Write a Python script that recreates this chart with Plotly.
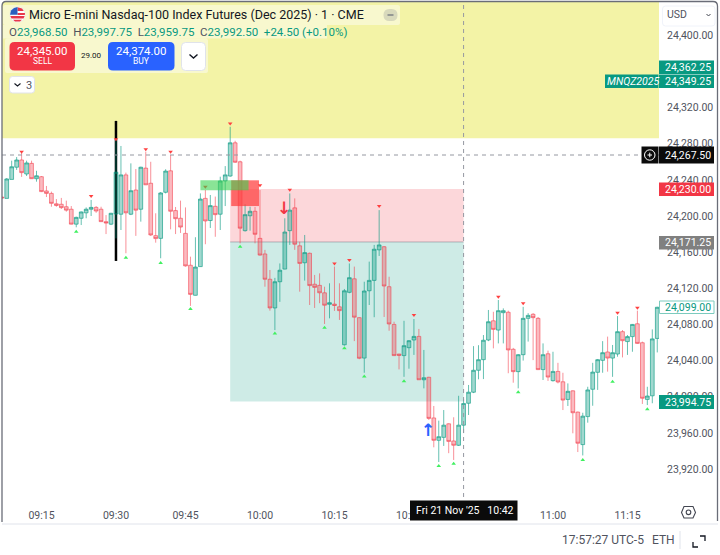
# -*- coding: utf-8 -*-
"""Micro E-mini Nasdaq-100 one minute chart with position boxes and price tags."""

import plotly.graph_objects as go

WIDTH = 720
HEIGHT = 555

TEAL = "#089981"
RED = "#F23645"
BLUE = "#2962FF"
TEXT = "#50535E"
FONT = "Roboto"

opens = [
    24221, 24219.5, 24240.5, 24254, 24262, 24246.5, 24258.25, 24241.25, 24243.5, 24227.75,
    24225, 24213.5, 24213, 24210.25, 24207.5, 24191, 24197.5, 24203.5, 24207.5, 24209.5,
    24207.5, 24193.75, 24191, 24202.25, 24202, 24245.5, 24202, 24228.75, 24207.5, 24253,
    24236.25, 24178.25, 24175.25, 24226.25, 24250, 24206, 24197.5, 24180.75, 24145.5, 24112.25,
    24144, 24219.5, 24195, 24210.75, 24202, 24238.75, 24244.25, 24281, 24260, 24183.75,
    24200.25, 24205.25, 24175.25, 24158, 24130, 24098.25, 24127.25, 24141.25, 24183.75, 24209,
    24167, 24148.25, 24158.75, 24124.5, 24123.25, 24115, 24102.25, 24102.5, 24099.5, 24057.5,
    24115.5, 24130.5, 24087.5, 24042.75, 24117.25, 24128.75, 24162.5, 24166, 24121.75, 24080,
    24047.25, 24045.5, 24054.25, 24062.75, 24066.75, 24018.75, 24021.5, 23976.5, 23951.75, 23955,
    23970, 23951, 23946.25, 23968.5, 23992.75, 24005, 24029.25, 24041, 24062.75, 24084,
    24073.75, 24093, 24093.5, 24052.5, 24027.75, 24046.5, 24086.75, 24091.25, 24086.75, 24030,
    24047.5, 24017.75, 24028, 24016.5, 23997, 24006.5, 23983, 23947, 23978, 24008.25,
    24027, 24040.25, 24049.5, 24042.75, 24047.25, 24072, 24061, 24066.5, 24080.75, 24059.75,
    23997, 24001, 24064.5,
]
highs = [
    24222, 24242, 24261.25, 24265.25, 24269.75, 24261.25, 24261.25, 24250, 24244.25, 24233.25,
    24227, 24218.75, 24220, 24217, 24211, 24199.25, 24205, 24209.5, 24217.75, 24211,
    24210.25, 24201, 24203.5, 24284, 24277.5, 24248, 24258.25, 24252, 24254.5, 24271.25,
    24260, 24203, 24226.5, 24251.75, 24267.5, 24210, 24217, 24209.5, 24155, 24176.5,
    24225, 24228.75, 24223.25, 24221.5, 24243.5, 24255.25, 24298.75, 24283.25, 24261.25, 24213,
    24210.25, 24210, 24228.75, 24162.5, 24140.25, 24131.5, 24147.5, 24197.5, 24225, 24219.5,
    24171.5, 24179, 24159.5, 24134.75, 24136.5, 24121.75, 24125.5, 24144, 24125.5, 24119.25,
    24147.5, 24144, 24088, 24127.25, 24149.5, 24168, 24206.5, 24166.75, 24132.75, 24083,
    24047.5, 24084, 24062.75, 24086, 24075, 24051.75, 24022, 23989.75, 23973.5, 23985.25,
    23970.5, 23977.25, 24001, 23997.75, 24013, 24056, 24057, 24068.25, 24096, 24094,
    24107, 24097.75, 24095.25, 24054, 24047.25, 24099.5, 24092.5, 24092.5, 24088.25, 24059,
    24051, 24049.75, 24037.5, 24026.5, 24014.75, 24007, 23983.5, 23982.25, 24011, 24037.5,
    24041.75, 24061.5, 24066.5, 24057.25, 24089.25, 24073.75, 24068.25, 24080.5, 24095.25, 24061,
    24011, 24074.5, 24099.5,
]
lows = [
    24218.75, 24219.5, 24240.5, 24251, 24243.25, 24244.25, 24241, 24238, 24226.5, 24221,
    24210.25, 24210.25, 24207.75, 24204.75, 24190.75, 24187.5, 24190, 24197.5, 24200, 24203.5,
    24193.5, 24180, 24190, 24175.25, 24184.5, 24158.75, 24201, 24178, 24193.75, 24234.25,
    24178, 24170.5, 24153.25, 24225, 24185.25, 24180, 24181.25, 24144, 24100.5, 24112,
    24143.75, 24168.75, 24186.75, 24177, 24184.5, 24211, 24243.5, 24258.75, 24169.75, 24182.75,
    24183.75, 24169.75, 24156, 24121.75, 24095.25, 24073.75, 24105, 24141, 24168, 24162.5,
    24116.25, 24128.5, 24101.5, 24098.25, 24103.5, 24080.5, 24086.75, 24095, 24085, 24056.5,
    24114.5, 24061.5, 24041.5, 24026.5, 24101.5, 24088, 24155.75, 24088.25, 24073, 24045,
    24030.25, 24022, 24031, 24046.25, 24018.5, 24009.25, 23974.25, 23944, 23927.75, 23945.5,
    23937.5, 23930, 23945.5, 23959.75, 23979.75, 24004, 24019.25, 24019.5, 24061.5, 24053.5,
    24059, 24059, 24026, 24015.5, 24009.25, 24040, 24061, 24040.5, 24029.5, 24018.5,
    24017.5, 24016.75, 24014.75, 23985.25, 23989.75, 23959.5, 23938.75, 23935, 23971.25, 23990,
    24007.5, 24026.5, 24027.75, 24022, 24044.25, 24043.5, 24046.25, 24049.75, 24058.5, 23992,
    23990.75, 23992.75, 24049,
]
closes = [
    24220, 24241, 24254.5, 24262, 24248, 24258.75, 24241.25, 24244.5, 24227, 24225,
    24214, 24211.75, 24209.25, 24206.5, 24191, 24198.5, 24204.5, 24207.5, 24209.5, 24205.5,
    24193.75, 24192.25, 24203, 24248.5, 24245.5, 24203.5, 24228, 24206.5, 24254, 24234.5,
    24179, 24175, 24225.5, 24249.75, 24205.25, 24197, 24187.75, 24144.75, 24113.25, 24143.5,
    24218.75, 24194.5, 24211.5, 24201.5, 24238.75, 24245.5, 24281, 24259.5, 24186.5, 24201.5,
    24205.25, 24179.75, 24156.75, 24130, 24098.25, 24127.25, 24140, 24182.25, 24206.5, 24168.75,
    24147.5, 24159.5, 24123, 24121, 24115, 24101.25, 24104, 24101, 24095.25, 24117.25,
    24131.75, 24088, 24042.5, 24117, 24128.75, 24163.25, 24168, 24122.5, 24080.5, 24045.5,
    24045.75, 24056.5, 24062, 24066.75, 24018.75, 24021, 23976, 23951.75, 23955.75, 23968.5,
    23950.5, 23946.25, 23968.5, 23992.5, 24005, 24029.25, 24041, 24062.5, 24083, 24074.5,
    24095.25, 24095.25, 24051.75, 24027.75, 24046.5, 24086.75, 24090, 24087.5, 24030, 24046.5,
    24021.75, 24028, 24016.25, 23996.25, 24006, 23982.25, 23948.5, 23978.5, 24007.5, 24027.25,
    24041, 24048.75, 24042.75, 24048.75, 24072, 24062, 24066.5, 24080, 24059, 23998.25,
    24000.75, 24064, 24099,
]

# swing markers: bar index and price
high_mark_bars = [4, 18, 23, 29, 34, 41, 46, 52, 58, 67, 70, 76, 83, 100, 105, 124, 128]
high_mark_prices = [24271, 24222, 24285, 24274, 24271, 24232.5, 24302.5, 24234, 24229, 24147.5,
                    24151.25, 24211, 24090.5, 24110.75, 24103.5, 24093, 24098.5]
low_mark_bars = [15, 25, 32, 38, 48, 55, 65, 69, 73, 81, 88, 91, 104, 117, 123, 130]
low_mark_prices = [24182.5, 24153.75, 24148, 24097, 24166, 24070, 24076.25, 24053.5, 24022.5,
                   24017, 23923.25, 23925.75, 24005, 23930, 24016.5, 23986]

x_tick_bars = [8, 23, 37, 52, 67, 82, 111, 126]
x_tick_labels = ["09:15", "09:30", "09:45", "10:00", "10:15", "10:30", "11:00", "11:15"]
# 24,360 sits fully under the position tags in the reference, so it is left out
y_tick_prices = [24400, 24320, 24280, 24240, 24200, 24160, 24120, 24080, 24040, 24000, 23960, 23920]

X_RANGE = [0.05, 132.35]
Y_RANGE = [23889.0, 24436.85]

CROSS_BAR = 93
CROSS_PRICE = 24267.5
ZONE_START_BAR = 46
ZONE_STOP = 24230
ZONE_ENTRY = 24171.25
ZONE_TARGET = 23994.75
SESSION_BAR = 23


def px(x):
    return x / WIDTH


def py(y):
    return 1 - y / HEIGHT


def rounded_path(x0, y0, x1, y1, r):
    """SVG path of a rounded box, given in window pixels, in paper fractions."""
    return (
        f"M {px(x0 + r)} {py(y0)} L {px(x1 - r)} {py(y0)} Q {px(x1)} {py(y0)} {px(x1)} {py(y0 + r)} "
        f"L {px(x1)} {py(y1 - r)} Q {px(x1)} {py(y1)} {px(x1 - r)} {py(y1)} "
        f"L {px(x0 + r)} {py(y1)} Q {px(x0)} {py(y1)} {px(x0)} {py(y1 - r)} "
        f"L {px(x0)} {py(y0 + r)} Q {px(x0)} {py(y0)} {px(x0 + r)} {py(y0)} Z"
    )


def polyline(points, close=False):
    head = "M " + " L ".join(f"{px(x)} {py(y)}" for x, y in points)
    return head + (" Z" if close else "")


fig = go.Figure()

fig.add_trace(
    go.Candlestick(
        x=list(range(len(opens))),
        open=opens,
        high=highs,
        low=lows,
        close=closes,
        increasing=dict(line=dict(color="rgba(8,153,129,0.62)", width=1), fillcolor="rgba(8,153,129,0.38)"),
        decreasing=dict(line=dict(color="rgba(242,54,69,0.55)", width=1), fillcolor="rgba(242,54,69,0.34)"),
        hoverinfo="skip",
        showlegend=False,
    )
)
fig.add_trace(
    go.Scatter(
        x=high_mark_bars,
        y=high_mark_prices,
        mode="markers",
        marker=dict(symbol="triangle-down", size=4, color="#FF4040"),
        hoverinfo="skip",
        showlegend=False,
    )
)
fig.add_trace(
    go.Scatter(
        x=low_mark_bars,
        y=low_mark_prices,
        mode="markers",
        marker=dict(symbol="triangle-up", size=4, color="#40F060"),
        hoverinfo="skip",
        showlegend=False,
    )
)

shapes = []


def data_rect(x0, x1, y0, y1, fill, layer="below"):
    shapes.append(dict(type="rect", xref="x", yref="y", x0=x0, x1=x1, y0=y0, y1=y1,
                       fillcolor=fill, line=dict(width=0), layer=layer))


def ui_path(path, fill="rgba(0,0,0,0)", line_color=None, line_width=0, layer="above"):
    shapes.append(dict(type="path", xref="paper", yref="paper", path=path, fillcolor=fill,
                       line=dict(color=line_color or "rgba(0,0,0,0)", width=line_width), layer=layer))


# yellow band behind the top of the chart
data_rect(X_RANGE[0], X_RANGE[1], 24286, Y_RANGE[1], "#F3F3A6")
# position boxes
data_rect(ZONE_START_BAR, CROSS_BAR, ZONE_ENTRY, ZONE_STOP, "rgba(242,54,69,0.2)")
data_rect(ZONE_START_BAR, CROSS_BAR, ZONE_TARGET, ZONE_ENTRY, "rgba(8,153,129,0.2)")
shapes.append(dict(type="line", xref="x", yref="y", x0=ZONE_START_BAR, x1=CROSS_BAR, y0=ZONE_ENTRY, y1=ZONE_ENTRY,
                   line=dict(color="rgba(120,123,134,0.5)", width=1), layer="below"))
shapes.append(dict(type="line", xref="x", yref="y", x0=SESSION_BAR, x1=SESSION_BAR, y0=24150.25, y1=24305.25,
                   line=dict(color="#000000", width=2.5), layer="below"))
# order blocks drawn over the candles
data_rect(46.2, 51.8, 24211, 24239.5, "rgba(255,60,60,0.72)", layer="above")
data_rect(40, 49.7, 24228.5, 24239.5, "rgba(60,210,80,0.6)", layer="above")
# crosshair
shapes.append(dict(type="line", xref="x", yref="y", x0=X_RANGE[0], x1=X_RANGE[1], y0=CROSS_PRICE, y1=CROSS_PRICE,
                   line=dict(color="#9598A1", width=1, dash="4px,4px"), layer="above"))
shapes.append(dict(type="line", xref="x", yref="y", x0=CROSS_BAR, x1=CROSS_BAR, y0=Y_RANGE[0], y1=Y_RANGE[1],
                   line=dict(color="#9598A1", width=1, dash="4px,4px"), layer="above"))

annotations = []


def text(x, y, label, size=11, color=TEXT, anchor="left", **extra):
    annotations.append(dict(xref="paper", yref="paper", x=px(x), y=py(y), text=label, showarrow=False,
                            xanchor=anchor, yanchor="middle", font=dict(family=FONT, size=size, color=color),
                            borderpad=0, **extra))


def price_tag(x0, y0, x1, y1, label, fill, color="#FFFFFF", border=None, italic=False):
    shapes.append(dict(type="rect", xref="paper", yref="paper", x0=px(x0), x1=px(x1), y0=py(y0), y1=py(y1),
                       fillcolor=fill, line=dict(color=border or fill, width=1 if border else 0), layer="above"))
    body = f"<i>{label}</i>" if italic else label
    text((x0 + x1) / 2 + 1, (y0 + y1) / 2, body, size=10.5, color=color, anchor="center")


# header backdrops
ui_path(rounded_path(3, 5, 400, 25, 2), fill="rgba(255,255,255,0.45)")
ui_path(rounded_path(3, 25, 327, 38.5, 0), fill="rgba(255,255,255,0.45)")
ui_path(rounded_path(5, 38.5, 208, 73, 2), fill="rgba(255,255,255,0.45)")

# US flag bubble
ui_path(rounded_path(10, 7, 25, 22, 7.5), fill="#FFFFFF", line_color="#E0E3EB", line_width=0.5)
ui_path(polyline([(17.5, 7.2), (22, 8.6), (23.8, 11), (17.5, 11)], True), fill="#E8384A")
ui_path(polyline([(17.5, 13), (25, 13), (24.8, 15), (17.5, 15)], True), fill="#E8384A")
ui_path(polyline([(10.3, 16), (24.7, 16), (23.5, 18.5), (11.5, 18.5)], True), fill="#E8384A")
ui_path(polyline([(13, 19.7), (22, 19.7), (20, 21.6), (15, 21.6)], True), fill="#E8384A")
ui_path(polyline([(10, 14.7), (17.5, 14.7), (17.5, 7.1), (14, 7.9), (11, 10.5)], True), fill="#2B5FBF")

text(28, 15, "Micro E-mini Nasdaq-100 Index Futures (Dec 2025) · 1 · CME", size=12.5, color="#131722")
ui_path(rounded_path(383.5, 9, 397.5, 21, 6), fill="rgba(120,123,134,0.25)")
ui_path(polyline([(387.5, 15), (393.5, 15)]), line_color="#6A6D78", line_width=1.2)

green = lambda s: f'<span style="color:{TEAL}">{s}</span>'
ohlc = (
    "O" + green("23,968.50") + "  H" + green("23,997.75") + "  L" + green("23,959.75")
    + "  C" + green("23,992.50") + "  " + green("+24.50 (+0.10%)")
)
text(8, 32, ohlc, size=11.5, color=TEXT)

# trade buttons
ui_path(rounded_path(9.5, 42, 75, 70.5, 5), fill=RED)
text(42, 51, "24,345.00", size=11.5, color="#FFFFFF", anchor="center")
text(42, 61, "SELL", size=8.5, color="#FFFFFF", anchor="center")
text(91.5, 56, "29.00", size=8, color="#131722", anchor="center")
ui_path(rounded_path(108, 42, 174.5, 70.5, 5), fill=BLUE)
text(141.5, 51, "24,374.00", size=11.5, color="#FFFFFF", anchor="center")
text(141.5, 61, "BUY", size=8.5, color="#FFFFFF", anchor="center")
ui_path(rounded_path(181.5, 42.5, 205.5, 70.5, 4), fill="#FFFFFF", line_color="#E0E3EB", line_width=1)
ui_path(polyline([(189.5, 54.5), (193.5, 58), (197.5, 54.5)]), line_color="#131722", line_width=1.4)
# collapsed indicators
ui_path(rounded_path(9.5, 76.5, 34.5, 93, 3), fill="#FFFFFF", line_color="#E0E3EB", line_width=1)
ui_path(polyline([(14.5, 83.5), (17.5, 86), (20.5, 83.5)]), line_color="#131722", line_width=1.1)
text(25, 85, "3", size=11, color=TEXT)

# right side labels
ui_path(rounded_path(662.5, 6, 715, 26, 3), fill="#FFFFFF", line_color="#F0F3FA", line_width=1)
text(666, 15, "USD", size=10.5, color=TEXT)
ui_path(polyline([(706.5, 14), (708.5, 16), (710.5, 14)]), line_color="#434651", line_width=1)

price_tag(659, 60.5, 714, 74, "24,362.25", TEAL)
price_tag(659, 74.5, 714, 88, "24,349.25", TEAL)
price_tag(605, 74.5, 658.5, 88, "MNQZ2025", TEAL, italic=True)
price_tag(659, 146.5, 714, 163.5, "24,267.50", "#0B0B0B")
shapes.append(dict(type="rect", xref="paper", yref="paper", x0=px(641.5), x1=px(658.5), y0=py(146.5), y1=py(163.5),
                   fillcolor="#0B0B0B", line=dict(width=0), layer="above"))
shapes.append(dict(type="circle", xref="paper", yref="paper", x0=px(644.5), x1=px(655), y0=py(149.8), y1=py(160.2),
                   line=dict(color="#FFFFFF", width=1), layer="above"))
ui_path(polyline([(647.5, 155), (652, 155)]), line_color="#FFFFFF", line_width=1)
ui_path(polyline([(649.75, 152.7), (649.75, 157.3)]), line_color="#FFFFFF", line_width=1)
price_tag(659, 182.5, 714, 196, "24,230.00", RED)
price_tag(659, 236, 714, 249.5, "24,171.25", "#808080")
price_tag(659.5, 301, 714, 313.5, "24,099.00", "#FFFFFF", color=TEAL, border="#7CCBBE")
price_tag(659, 395, 714, 409, "23,994.75", TEAL)

# crosshair time label
price_tag(410, 500.5, 517.5, 520.5, "Fri 21 Nov '25   10:42", "#0B0B0B")

# settings hexagon
ui_path(polyline([(684, 506.5), (693, 506.5), (695.5, 512.5), (693, 518), (684, 518), (681.5, 512.5)], True),
        line_color="#434651", line_width=1.1)
shapes.append(dict(type="circle", xref="paper", yref="paper", x0=px(686.2), x1=px(690.8), y0=py(510), y1=py(514.6),
                   line=dict(color="#434651", width=1.1), layer="above"))

# window frame
ui_path(
    "M " + f"{px(2)} {py(522)} L {px(2)} {py(6)} Q {px(2)} {py(1.5)} {px(6)} {py(1.5)} "
    f"L {px(713)} {py(1.5)} Q {px(717.5)} {py(1.5)} {px(717.5)} {py(6)} L {px(717.5)} {py(521)}",
    line_color="#6A6D78",
    line_width=1.3,
)
ui_path(polyline([(2, 524), (718, 524)]), line_color="#E0E3EB", line_width=1)

# footer
text(561, 539.5, "17:57:27 UTC-5", size=12, color=TEXT)
text(651, 539.5, "ETH", size=12, color=TEXT)
ui_path(polyline([(680, 531), (680, 549)]), line_color="#E0E3EB", line_width=1)
ui_path(polyline([(693, 542), (693, 547), (698, 547)]), line_color="#131722", line_width=1.3)
ui_path(polyline([(700, 536), (705, 536), (705, 541)]), line_color="#131722", line_width=1.3)

# entry and exit arrows
annotations.append(dict(x=56.8, y=24208.75, xref="x", yref="y", text="<b>↓</b>", showarrow=False, yanchor="middle",
                        font=dict(family="DejaVu Sans", size=17, color=RED)))
annotations.append(dict(x=85.8, y=23963, xref="x", yref="y", text="<b>↑</b>", showarrow=False, yanchor="middle",
                        font=dict(family="DejaVu Sans", size=17, color=BLUE)))

fig.update_layout(
    width=WIDTH,
    height=HEIGHT,
    margin=dict(l=0, r=0, t=0, b=0, pad=0),
    paper_bgcolor="#FFFFFF",
    plot_bgcolor="#FFFFFF",
    font=dict(family=FONT, size=11, color=TEXT),
    showlegend=False,
    hovermode=False,
    dragmode=False,
    boxgap=0.25,
    boxgroupgap=0,
    xaxis=dict(
        domain=[px(2), px(659)],
        range=X_RANGE,
        rangeslider=dict(visible=False),
        showgrid=False,
        zeroline=False,
        showline=False,
        tickmode="array",
        tickvals=x_tick_bars,
        ticktext=x_tick_labels,
        ticks="outside",
        ticklen=8,
        tickcolor="rgba(0,0,0,0)",
        tickfont=dict(family=FONT, size=10.5, color=TEXT),
        automargin=False,
    ),
    yaxis=dict(
        domain=[py(497), py(2)],
        range=Y_RANGE,
        side="right",
        showgrid=False,
        zeroline=False,
        showline=False,
        tickmode="array",
        tickvals=y_tick_prices,
        ticktext=[f"{p:,.2f}" for p in y_tick_prices],
        ticks="outside",
        ticklen=5,
        tickcolor="rgba(0,0,0,0)",
        tickfont=dict(family=FONT, size=10.5, color=TEXT),
        automargin=False,
    ),
    shapes=shapes,
    annotations=annotations,
)

# the browser's default body margin would push the fixed-size figure off the window
fig.write_html(
    "out.html",
    config={"displayModeBar": False},
    post_script="document.body.style.margin='0';document.body.style.overflow='hidden';",
)
